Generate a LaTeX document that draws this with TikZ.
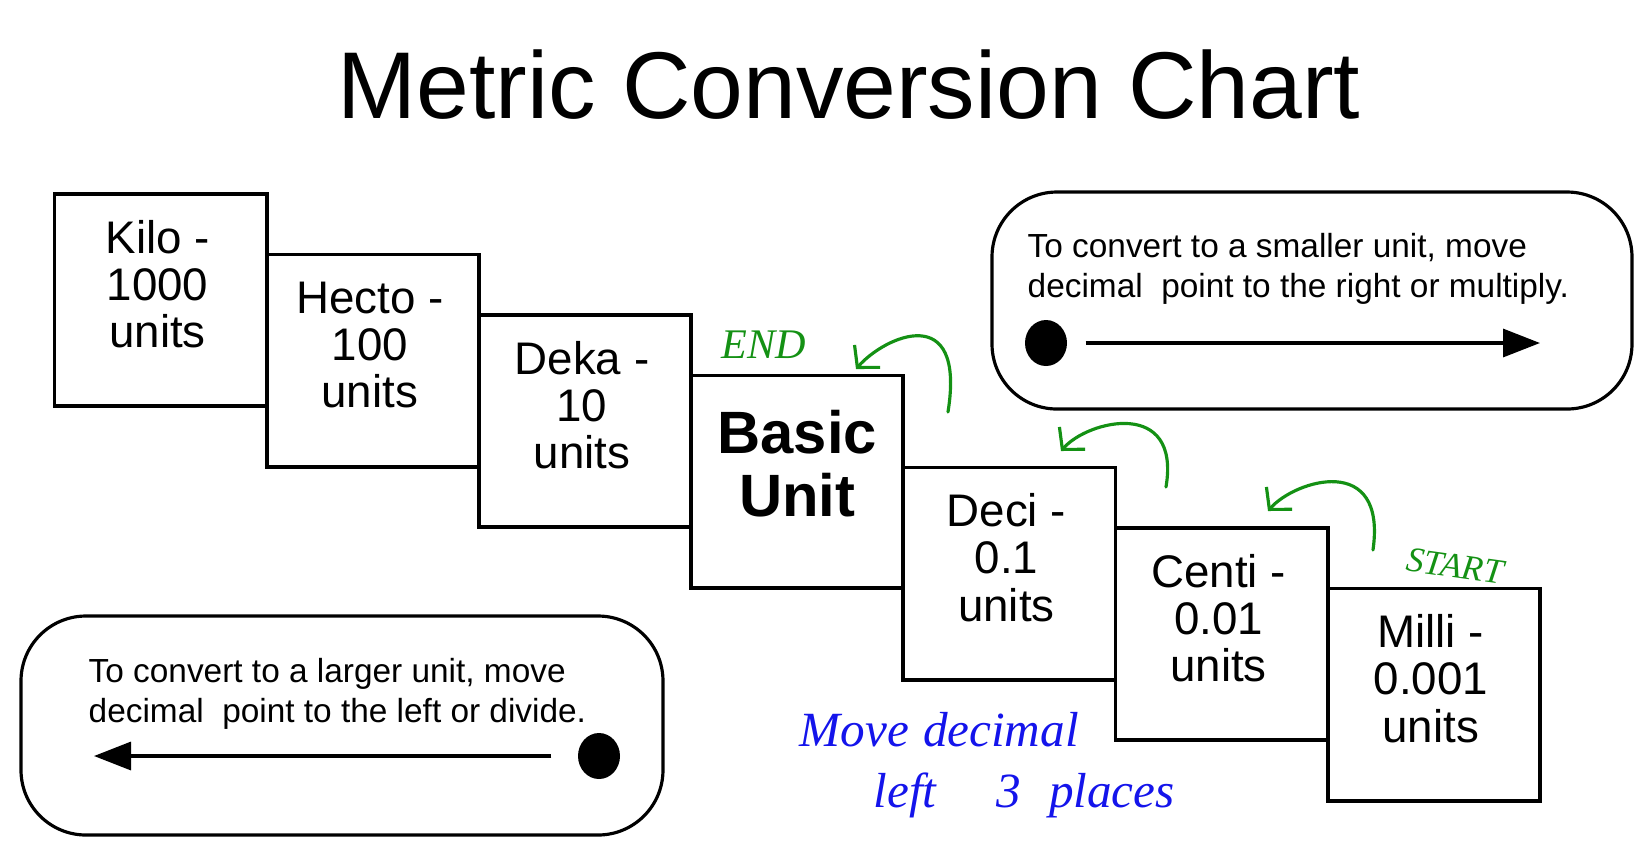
\documentclass[tikz,border=0pt]{standalone}
\usepackage{fontspec}
\setmainfont{Liberation Sans}
\newfontfamily\handfont{Liberation Serif}
\usetikzlibrary{positioning, arrows.meta, shapes.geometric}
\definecolor{penGreen}{RGB}{20,145,20}
\definecolor{penBlue}{RGB}{20,20,235}

\begin{document}
\begin{tikzpicture}[
    x=0.1mm, y=-0.1mm,
    unitbox/.style = {
        rectangle, draw=black, line width=1.05pt,
        minimum width=2.122cm, minimum height=2.122cm,
        inner sep=0pt, outer sep=0pt
    },
    unittext/.style = {
        align=center, yshift=1.6mm, xshift=-0.3mm,
        font=\fontsize{13}{13.4}\selectfont
    },
    basictext/.style = {
        align=center, yshift=1.8mm,
        font=\fontsize{17}{17.8}\selectfont\bfseries
    },
    notebox/.style = {
        rectangle, draw=black, line width=0.9pt,
        rounded corners=6.5mm, minimum width=6.4cm, minimum height=2.17cm,
        inner sep=0pt, outer sep=0pt
    },
    notetext/.style = {
        anchor=north west, align=left, inner sep=0pt,
        font=\fontsize{9.5}{11.2}\selectfont
    },
    blackdot/.style = {
        ellipse, fill=black, inner sep=0pt,
        minimum width=4.2mm, minimum height=4.6mm
    },
    arr/.style = {-{Triangle[length=3.7mm, width=2.8mm]}, line width=0.95pt},
    penarr/.style = {-{Straight Barb[length=1.5mm, width=3.4mm]}, draw=penGreen,
        line width=0.9pt, line cap=round},
    pentext/.style = {font=\handfont\itshape, inner sep=0pt}
]
\useasboundingbox (0,0) rectangle (1643,841);

% ---- Title ----
\node[font=\fontsize{27}{30}\selectfont, anchor=base] (title) at (849,118)
    {Metric Conversion Chart};

% ---- Unit staircase ----
\node[unitbox, anchor=north west,
      label={[unittext]center:Kilo -\\1000\\units}] (kilo) at (54.5,194) {};
\node[unitbox, below right=6.05mm and 0mm of kilo.north east,
      label={[unittext]center:Hecto -\\100\\units}] (hecto) {};
\node[unitbox, below right=6.05mm and 0mm of hecto.north east,
      label={[unittext]center:Deka -\\10\\units}] (deka) {};
\node[unitbox, below right=6.05mm and 0mm of deka.north east,
      label={[basictext]center:Basic\\Unit}] (basic) {};
\node[unitbox, below right=9.2mm and 0mm of basic.north east,
      label={[unittext]center:Deci -\\0.1\\units}] (deci) {};
\node[unitbox, below right=6.05mm and 0mm of deci.north east,
      label={[unittext]center:Centi -\\0.01\\units}] (centi) {};
\node[unitbox, below right=6.05mm and 0mm of centi.north east,
      label={[unittext]center:Milli -\\0.001\\units}] (milli) {};

% ---- Note: smaller unit ----
\node[notebox, anchor=north west] (rnote) at (992,192) {};
\node[notetext] (rtext) at ([shift={(35,41)}]rnote.north west)
    {To convert to a smaller unit, move\\decimal~ point to the right or multiply.};
\node[blackdot] (rdot) at ([shift={(54,151)}]rnote.north west) {};
\coordinate (rtip) at ([shift={(548,151)}]rnote.north west);
\draw[arr, shorten <=1.8mm] (rdot) -- (rtip);

% ---- Note: larger unit ----
\node[notebox, anchor=north west, minimum width=6.42cm, minimum height=2.19cm]
    (lnote) at (21,616) {};
\node[notetext] (ltext) at ([shift={(67,42)}]lnote.north west)
    {To convert to a larger unit, move\\decimal~ point to the left or divide.};
\node[blackdot] (ldot) at ([shift={(578,140)}]lnote.north west) {};
\coordinate (ltip) at ([shift={(73,140)}]lnote.north west);
\draw[arr, shorten <=2.6mm] (ldot) -- (ltip);

% ---- Pen marks ----
\coordinate (hop1a) at (948,412);  \coordinate (hop1b) at (856,369);
\coordinate (hop2a) at (1166,487); \coordinate (hop2b) at (1061,451);
\coordinate (hop3a) at (1373,550); \coordinate (hop3b) at (1268,511);
\draw[penarr] (hop1a) .. controls (966,300) and (885,336) .. (hop1b);
\draw[penarr] (hop2a) .. controls (1181,398) and (1088,420) .. (hop2b);
\draw[penarr] (hop3a) .. controls (1387,452) and (1295,480) .. (hop3b);

\node[pentext, text=penGreen, font=\handfont\itshape\fontsize{12}{12}\selectfont,
      anchor=base west] (endmark) at (721,358) {END};
\node[pentext, text=penGreen, font=\handfont\itshape\fontsize{10}{10}\selectfont,
      rotate=-8] (startmark) at (1455,566) {START};

\node[pentext, text=penBlue, font=\handfont\itshape\fontsize{14}{14}\selectfont,
      anchor=base west] (note1) at (799,746) {Move\hspace{4pt}decimal};
\node[pentext, text=penBlue, font=\handfont\itshape\fontsize{14}{14}\selectfont,
      anchor=base west] (note2) at (873,807) {left\hspace{17pt}3\hspace{8pt}places};

\end{tikzpicture}
\end{document}
